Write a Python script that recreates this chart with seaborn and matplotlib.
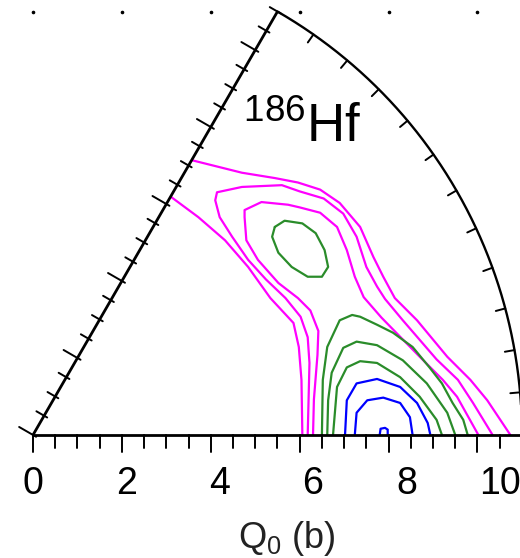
import numpy as np
import pandas as pd
import matplotlib
matplotlib.use("Agg")
import matplotlib.pyplot as plt
import seaborn as sns

sns.set_style("white")
plt.rcParams["font.family"] = ["Liberation Sans", "DejaVu Sans"]
plt.rcParams["mathtext.fontset"] = "custom"
plt.rcParams["mathtext.rm"] = "Liberation Sans"
plt.rcParams["mathtext.it"] = "Liberation Sans:italic"

# ---- sector geometry (beta, gamma plane) ----
BETA_MAX = 0.55
GAMMA_MAX = 60.0
BETA_TICK_STEP = 0.025
BETA_MAJOR_STEP = 0.1
GAMMA_TICKS = np.arange(5, 60, 5)
Q0_LABELS = [0, 2, 4, 6, 8, 10]
BETA_PER_BARN = 0.0525
NUCLEUS = r"$^{\mathrm{186}}$Hf"
XLABEL = r"Q$_{\mathrm{0}}$ (b)"

# ---- potential-energy contours, x = beta cos(gamma), y = beta sin(gamma) ----
# level 1 (outermost, open towards gamma = 60 deg): two branches
lvl1_upper = [(0.179, 0.309), (0.235, 0.295), (0.272, 0.289), (0.298, 0.284),
              (0.323, 0.276), (0.345, 0.261), (0.368, 0.234), (0.383, 0.200),
              (0.394, 0.178), (0.407, 0.154), (0.432, 0.129), (0.466, 0.088),
              (0.492, 0.062), (0.511, 0.039), (0.537, 0.0)]
lvl1_lower = [(0.155, 0.268), (0.186, 0.245), (0.216, 0.219), (0.242, 0.189),
              (0.267, 0.154), (0.293, 0.126), (0.299, 0.099), (0.302, 0.062),
              (0.303, 0.0)]
lvl2 = [(0.309, 0.0), (0.310, 0.040), (0.311, 0.081), (0.309, 0.110),
        (0.301, 0.133), (0.284, 0.154), (0.262, 0.175), (0.242, 0.197),
        (0.224, 0.223), (0.210, 0.245), (0.205, 0.264), (0.207, 0.273),
        (0.235, 0.279), (0.280, 0.281), (0.300, 0.274), (0.327, 0.266),
        (0.349, 0.249), (0.364, 0.223), (0.375, 0.189), (0.387, 0.167),
        (0.396, 0.153), (0.416, 0.129), (0.454, 0.085), (0.478, 0.062),
        (0.495, 0.036), (0.517, 0.0)]
lvl3 = [(0.315, 0.0), (0.316, 0.040), (0.320, 0.090), (0.321, 0.117),
        (0.312, 0.140), (0.298, 0.154), (0.276, 0.171), (0.253, 0.197),
        (0.240, 0.219), (0.238, 0.245), (0.238, 0.253), (0.257, 0.262),
        (0.287, 0.259), (0.300, 0.256), (0.323, 0.250), (0.342, 0.234),
        (0.353, 0.208), (0.362, 0.178), (0.372, 0.155), (0.392, 0.132),
        (0.435, 0.088), (0.461, 0.062), (0.477, 0.043), (0.501, 0.0)]
# level 4: pocket around the triaxial minimum and arch round the prolate one
lvl4_pocket = [(0.272, 0.234), (0.283, 0.241), (0.303, 0.238), (0.318, 0.227),
               (0.328, 0.208), (0.332, 0.189), (0.325, 0.178), (0.309, 0.178),
               (0.291, 0.189), (0.276, 0.205), (0.269, 0.223), (0.272, 0.234)]
lvl4 = [(0.325, 0.0), (0.326, 0.062), (0.331, 0.099), (0.345, 0.129),
        (0.359, 0.135), (0.368, 0.133), (0.387, 0.124), (0.405, 0.115),
        (0.427, 0.099), (0.446, 0.076), (0.460, 0.058), (0.472, 0.036),
        (0.484, 0.017), (0.489, 0.0)]
lvl5 = [(0.331, 0.0), (0.332, 0.039), (0.336, 0.070), (0.349, 0.098),
        (0.364, 0.105), (0.387, 0.101), (0.416, 0.084), (0.443, 0.058),
        (0.466, 0.025), (0.475, 0.0)]
lvl6 = [(0.3375, 0.0), (0.342, 0.054), (0.353, 0.076), (0.368, 0.083),
        (0.387, 0.081), (0.413, 0.065), (0.435, 0.043), (0.454, 0.017),
        (0.460, 0.0)]
lvl7 = [(0.351, 0.0), (0.353, 0.039), (0.364, 0.058), (0.387, 0.063),
        (0.413, 0.054), (0.432, 0.036), (0.444, 0.0135), (0.447, 0.0)]
lvl8 = [(0.362, 0.0), (0.364, 0.025), (0.376, 0.039), (0.394, 0.042),
        (0.413, 0.036), (0.424, 0.020), (0.427, 0.0)]
lvl9 = [(0.390, 0.0), (0.391, 0.007), (0.396, 0.008), (0.399, 0.006),
        (0.399, 0.0)]

CONTOURS = [(1, lvl1_upper), (1, lvl1_lower), (2, lvl2), (3, lvl3),
            (4, lvl4_pocket), (4, lvl4), (5, lvl5), (6, lvl6),
            (7, lvl7), (8, lvl8), (9, lvl9)]
LEVEL_COLORS = {1: "#ff00ff", 2: "#ff00ff", 3: "#ff00ff",
                4: "#2a8c2a", 5: "#2a8c2a", 6: "#2a8c2a",
                7: "#0000ff", 8: "#0000ff", 9: "#0000ff"}

rows = []
for cid, (level, pts) in enumerate(CONTOURS):
    for k, (x, y) in enumerate(pts):
        rows.append({"contour": cid, "level": level, "order": k, "x": x, "y": y})
df = pd.DataFrame(rows)

# ---- figure ----
fig = plt.figure(figsize=(5.2, 5.58), dpi=100)
ax = fig.add_axes([0, 0, 1, 1])
ax.set_xlim(-0.0371, 0.5478)
ax.set_ylim(-0.1384, 0.4893)
ax.set_aspect("equal")
ax.axis("off")

sns.lineplot(data=df, x="x", y="y", units="contour", hue="level",
             palette=LEVEL_COLORS, estimator=None, sort=False,
             legend=False, lw=1.6, ax=ax)

# sector frame
g60 = np.deg2rad(GAMMA_MAX)
frame_kw = dict(color="black", lw=2.0, solid_capstyle="butt", zorder=5)
ax.plot([0, BETA_MAX], [0, 0], **frame_kw)
ax.plot([0, BETA_MAX * np.cos(g60)], [0, BETA_MAX * np.sin(g60)], **frame_kw)
arc = np.linspace(0, g60, 300)
ax.plot(BETA_MAX * np.cos(arc), BETA_MAX * np.sin(arc), color="black", lw=1.7, zorder=5)

# beta ticks on the gamma = 0 and gamma = 60 deg edges
tick_kw = dict(color="black", lw=1.4, zorder=5)
beta_ticks = np.arange(0, BETA_MAX + 1e-9, BETA_TICK_STEP)
normal = np.array([-np.sin(g60), np.cos(g60)])
edge = np.array([np.cos(g60), np.sin(g60)])
for b in beta_ticks:
    major = abs(b / BETA_MAJOR_STEP - round(b / BETA_MAJOR_STEP)) < 1e-6
    ax.plot([b, b], [0, -(0.019 if major else 0.0146)], **tick_kw)
    p = b * edge
    length = 0.018 if major else 0.010
    a = p - 0.004 * normal
    c = p + length * normal
    ax.plot([a[0], c[0]], [a[1], c[1]], **tick_kw)

# gamma ticks on the arc
for g in np.deg2rad(GAMMA_TICKS):
    r0, r1 = BETA_MAX, BETA_MAX - 0.011
    ax.plot([r0 * np.cos(g), r1 * np.cos(g)], [r0 * np.sin(g), r1 * np.sin(g)], **tick_kw)

# small marks at the top frame
top_marks = np.arange(0, 0.5 + 1e-9, BETA_MAJOR_STEP)
ax.plot(top_marks, np.full_like(top_marks, BETA_MAX * np.sin(g60)), ls="none",
        marker="o", ms=1.6, color="black")

# Q0 labels
for q in Q0_LABELS:
    ax.text(q * BETA_PER_BARN, -0.0546, str(q), ha="center", va="center",
            fontsize=27, color="black")
ax.text(0.285, -0.127, XLABEL, ha="center", va="baseline", fontsize=26, color="#222222")

ax.text(0.236, 0.3296, NUCLEUS, ha="left", va="baseline", fontsize=38, color="black")

fig.savefig("out.png", dpi=100)
